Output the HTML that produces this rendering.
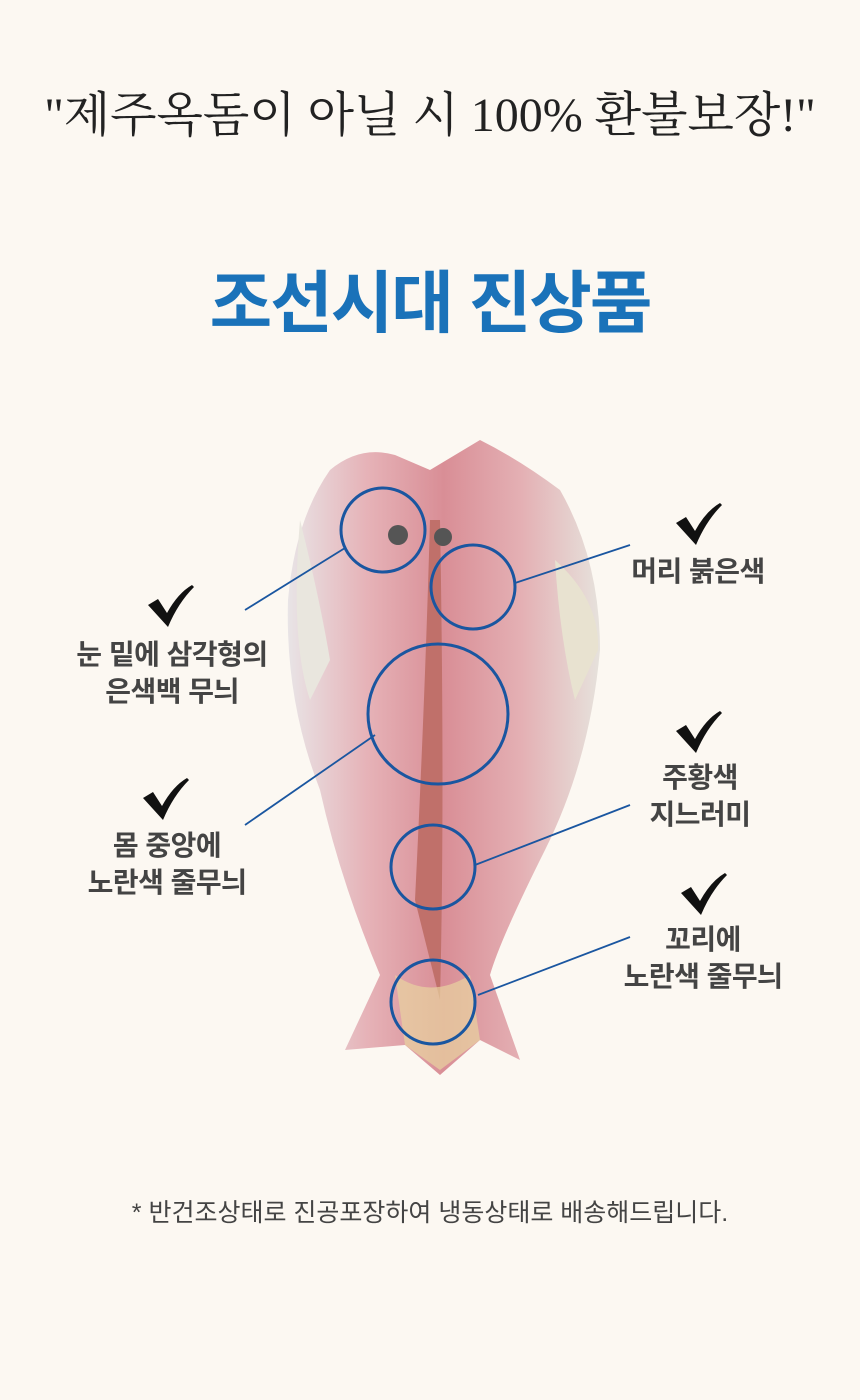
<!DOCTYPE html>
<html><head><meta charset="utf-8"><style>
html,body{margin:0;padding:0;}
body{width:860px;height:1400px;background:#fcf8f2;position:relative;overflow:hidden;font-family:"Liberation Sans","Noto Sans CJK KR",sans-serif;}
.t{position:absolute;white-space:nowrap;}
.lab{position:absolute;text-align:center;font-weight:bold;font-size:28px;color:#444;line-height:37px;transform:translateX(-50%);white-space:nowrap;letter-spacing:-0.5px;}
</style></head><body>
<div class="t" style="left:0;width:860px;text-align:center;top:76px;font-family:'Liberation Serif','Noto Serif CJK SC',serif;font-size:48px;color:#222;">"제주옥돔이 아닐 시 100% 환불보장!"</div>
<div class="t" style="left:0;width:860px;text-align:center;top:248px;font-size:68px;font-weight:bold;color:#1a72b9;letter-spacing:-2px;">조선시대 진상품</div>
<svg width="860" height="1400" style="position:absolute;left:0;top:0">
<defs>
<linearGradient id="g" x1="0" x2="1"><stop offset="0" stop-color="#e8e4e6"/><stop offset="0.25" stop-color="#e6b3b8"/><stop offset="0.5" stop-color="#d98e96"/><stop offset="0.75" stop-color="#e4b0b4"/><stop offset="1" stop-color="#e6e2dc"/></linearGradient>
<path id="ck" d="M-22 -2 L-12 -8 L-3 6 Q8 -14 22 -22 L24 -20 Q8 -4 -2 20 Z"/>
</defs>
<path d="M330 470 Q360 445 395 455 L430 470 L480 440 Q520 460 560 490 Q600 560 600 650 Q590 760 545 850 Q500 940 490 975 L520 1060 L480 1040 L440 1075 L405 1045 L345 1050 L380 975 Q340 880 320 790 Q285 700 288 600 Q295 520 330 470 Z" fill="url(#g)"/>
<path d="M300 520 Q320 600 330 660 L310 700 Q290 640 300 520 Z" fill="#e9e6de"/>
<path d="M555 560 Q600 600 598 650 L575 700 Q560 640 555 560Z" fill="#e8e2d0"/>
<path d="M430 520 Q425 700 415 900 L440 1000 Q445 800 440 520Z" fill="#c0706a"/>
<path d="M395 975 Q430 1000 470 975 L480 1040 L440 1070 L405 1045Z" fill="#e8d3a0" opacity="0.7"/>
<circle cx="398" cy="535" r="10" fill="#555"/><circle cx="443" cy="537" r="9" fill="#555"/>
<g fill="none" stroke="#1a56a0" stroke-width="3">
<circle cx="383" cy="530" r="42"/><circle cx="473" cy="587" r="42"/><circle cx="438" cy="714" r="70"/><circle cx="433" cy="867" r="42"/><circle cx="433" cy="1002" r="42"/>
</g>
<g stroke="#1a56a0" stroke-width="1.8">
<line x1="245" y1="610" x2="345" y2="548"/><line x1="515" y1="583" x2="630" y2="545"/><line x1="245" y1="825" x2="375" y2="735"/><line x1="475" y1="865" x2="630" y2="805"/><line x1="478" y1="995" x2="630" y2="937"/>
</g>
<g fill="#111">
<use href="#ck" x="698" y="525"/><use href="#ck" x="170" y="607"/><use href="#ck" x="165" y="800"/><use href="#ck" x="698" y="733"/><use href="#ck" x="703" y="895"/>
</g>
</svg>
<div class="lab" style="left:698px;top:553px;">머리 붉은색</div>
<div class="lab" style="left:172px;top:636px;">눈 밑에 삼각형의<br>은색백 무늬</div>
<div class="lab" style="left:167px;top:827px;">몸 중앙에<br>노란색 줄무늬</div>
<div class="lab" style="left:700px;top:759px;">주황색<br>지느러미</div>
<div class="lab" style="left:703px;top:921px;">꼬리에<br>노란색 줄무늬</div>
<div class="t" style="left:0;width:860px;text-align:center;top:1193px;font-size:25px;color:#444;">* 반건조상태로 진공포장하여 냉동상태로 배송해드립니다.</div>
</body></html>
